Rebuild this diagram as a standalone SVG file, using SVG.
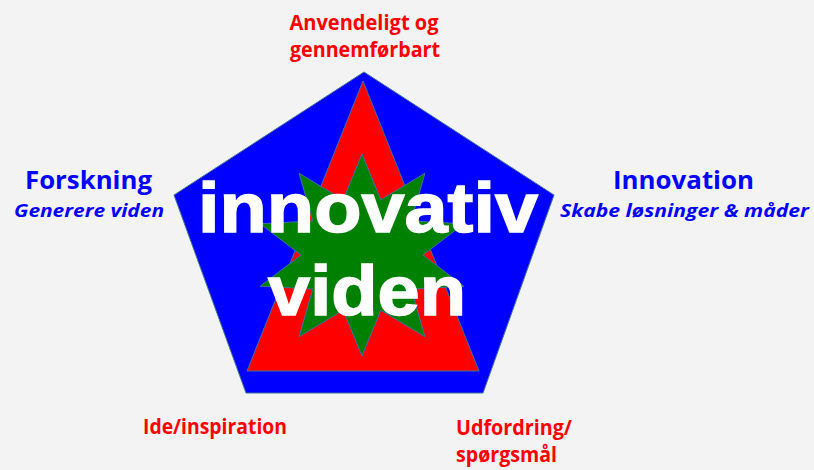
<svg xmlns="http://www.w3.org/2000/svg" width="814" height="470" viewBox="0 0 814 470">
<style>
.lbl{font-family:"Open Sans","Noto Sans","Liberation Sans",sans-serif;font-weight:bold}
.red{fill:#FF0000}
.blue{fill:#0000FF}
.it{font-style:italic}
.big{font-family:"Liberation Sans",Arial,sans-serif;font-weight:700;fill:#FFFFFF;stroke:#FFFFFF;stroke-width:1.5;font-size:71px}
.shp{stroke:#41719C;stroke-width:1}
</style>
<rect width="814" height="470" fill="#F3F3F3"/>
<g id="pentagon">
<polygon class="shp" fill="#0000FF" points="364,72 554,195 483,393 246,393 174,195"/>
</g>
<g id="triangle">
<polygon class="shp" fill="#FF0000" points="363,81 479,371 247,371"/>
</g>
<g id="star">
<polygon class="shp" fill="#008000" points="362,154 380.8,199.8 424.9,173.3 411.3,220.9 463.8,223.8 423,255 463.8,286.2 411.3,289.1 424.9,336.7 380.8,310.2 362,356 343.2,310.2 299.1,336.7 312.7,289.1 260.2,286.2 301,255 260.2,223.8 312.7,220.9 299.1,173.3 343.2,199.8"/>
</g>
<g id="center-text">
<text class="big" x="368" y="232" text-anchor="middle" font-weight="bold" textLength="340" lengthAdjust="spacingAndGlyphs">innovativ</text>
<text class="big" x="367" y="315" text-anchor="middle" font-weight="bold" textLength="198" lengthAdjust="spacingAndGlyphs">viden</text>
</g>
<g id="top-label">
<text class="lbl red" x="364" y="30" font-size="21" text-anchor="middle" textLength="149" lengthAdjust="spacingAndGlyphs">Anvendeligt og</text>
<text class="lbl red" x="365" y="57" font-size="21" text-anchor="middle" textLength="150" lengthAdjust="spacingAndGlyphs">gennemførbart</text>
</g>
<g id="left-label">
<text class="lbl blue" x="88.5" y="189" font-size="25" text-anchor="middle" textLength="127" lengthAdjust="spacingAndGlyphs">Forskning</text>
<text class="lbl blue it" x="89" y="217" font-size="17" text-anchor="middle" textLength="150" lengthAdjust="spacingAndGlyphs">Generere viden</text>
</g>
<g id="right-label">
<text class="lbl blue" x="683.5" y="189" font-size="25" text-anchor="middle" textLength="141" lengthAdjust="spacingAndGlyphs">Innovation</text>
<text class="lbl blue it" x="684.5" y="217" font-size="17" text-anchor="middle" textLength="249" lengthAdjust="spacingAndGlyphs">Skabe løsninger &amp; måder</text>
</g>
<g id="bottom-left-label">
<text class="lbl red" x="143" y="434" font-size="21" textLength="144" lengthAdjust="spacingAndGlyphs">Ide/inspiration</text>
</g>
<g id="bottom-right-label">
<text class="lbl red" x="456" y="435" font-size="21" textLength="116" lengthAdjust="spacingAndGlyphs">Udfordring/</text>
<text class="lbl red" x="456" y="462" font-size="21" textLength="101" lengthAdjust="spacingAndGlyphs">spørgsmål</text>
</g>
<g id="connectors"/>
</svg>
